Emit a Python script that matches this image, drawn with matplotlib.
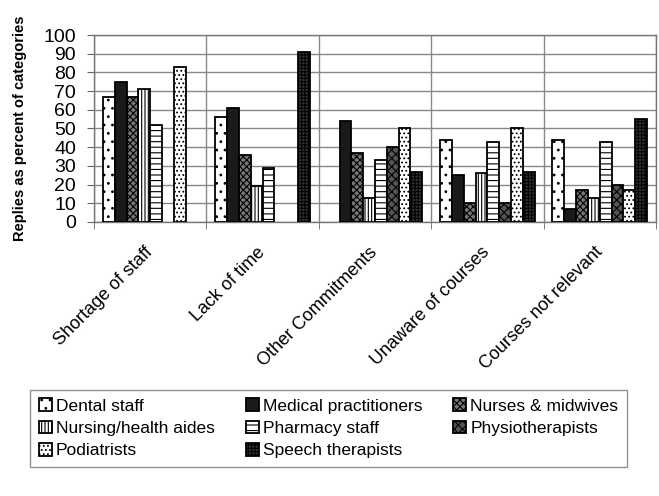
import numpy as np
import matplotlib
matplotlib.use("Agg")
from matplotlib import pyplot as plt

plt.rcParams['font.family'] = ['Liberation Sans', 'DejaVu Sans']
plt.rcParams['hatch.linewidth'] = 0.8

categories = ["Shortage of staff", "Lack of time", "Other Commitments",
              "Unaware of courses", "Courses not relevant"]
groups = ["Dental staff", "Medical practitioners", "Nurses & midwives",
          "Nursing/health aides", "Pharmacy staff", "Physiotherapists",
          "Podiatrists", "Speech therapists"]

dental = [67, 56, 0, 44, 44]
medical = [75, 61, 54, 25, 7]
nurses = [67, 36, 37, 10, 17]
aides = [71, 19, 13, 26, 13]
pharmacy = [52, 29, 33, 43, 43]
physio = [0, 0, 40, 10, 20]
podiatry = [83, 0, 50, 50, 17]
speech = [0, 91, 27, 27, 55]

series = [dental, medical, nurses, aides, pharmacy, physio, podiatry, speech]

# face colour and hatch for each series
styles = [
    ("white", "black", ".."),
    ("#1a1a1a", "#1a1a1a", ""),
    ("#777777", "black", "xxxxx"),
    ("white", "black", "|||||"),
    ("white", "black", "---"),
    ("#555555", "black", "xxxx"),
    ("white", "black", "...."),
    ("#333333", "black", "+++++"),
]

fig = plt.figure(figsize=(6.59, 4.96), dpi=100)
ax = fig.add_axes([94 / 659, 1 - 222 / 496, (656 - 94) / 659, (222 - 35) / 496])

n = len(series)
width = 1.0 / (n + 1.5)
x = np.arange(len(categories))
handles = []
for i, (vals, (fc, hc, h)) in enumerate(zip(series, styles)):
    pos = x - 0.5 + 0.75 * width + (i + 0.5) * width
    v = np.array(vals, dtype=float)
    keep = v > 0  # empty categories get no bar at all
    plt.rcParams['hatch.color'] = hc
    b = ax.bar(pos[keep], v[keep], width, color=fc, edgecolor="black", hatch=h,
               linewidth=1.3, label=groups[i], zorder=3)
    handles.append(b)

ax.set_xlim(-0.5, len(categories) - 0.5)
ax.set_ylim(0, 100)
ax.set_yticks(np.arange(0, 101, 10))
ax.set_yticklabels([str(v) for v in range(0, 101, 10)], fontsize=14)
ax.yaxis.grid(True, color="#888888", linewidth=1, zorder=0)

ax.set_xticks(x)
ax.set_xticklabels(categories, rotation=45, ha="right", va="center",
                   rotation_mode="anchor", fontsize=13)
ax.tick_params(axis="x", length=0, pad=20)
ax.set_xticks(np.arange(-0.5, len(categories)), minor=True)
ax.tick_params(axis="x", which="minor", length=5, color="#666666")
ax.xaxis.grid(True, which="minor", color="#888888", linewidth=1, zorder=0)
ax.tick_params(axis="y", length=5, color="#666666", pad=8)

for s in ax.spines.values():
    s.set_color("#777777")
    s.set_linewidth(1)

ax.set_ylabel("Replies as percent of categories", fontsize=10.5,
              fontweight="bold", labelpad=12)

# legend fills row by row: reorder for matplotlib's column-major layout
ncol = 3
nrow = int(np.ceil(n / ncol))
order = [r * ncol + c for c in range(ncol) for r in range(nrow) if r * ncol + c < n]
leg = fig.legend([handles[k] for k in order], [groups[k] for k in order],
                 loc="lower left",
                 bbox_to_anchor=(30 / 659, 1 - 467 / 496, (627 - 30) / 659, 75 / 496),
                 mode="expand", ncol=ncol, fontsize=12.5, frameon=True, fancybox=False,
                 handlelength=0.75, handleheight=0.75, handletextpad=0.25,
                 borderaxespad=0, borderpad=0.5, labelspacing=0.4, columnspacing=1.0)
leg.get_frame().set_edgecolor("#777777")
leg.get_frame().set_linewidth(1)

fig.savefig("out.png", dpi=100)
